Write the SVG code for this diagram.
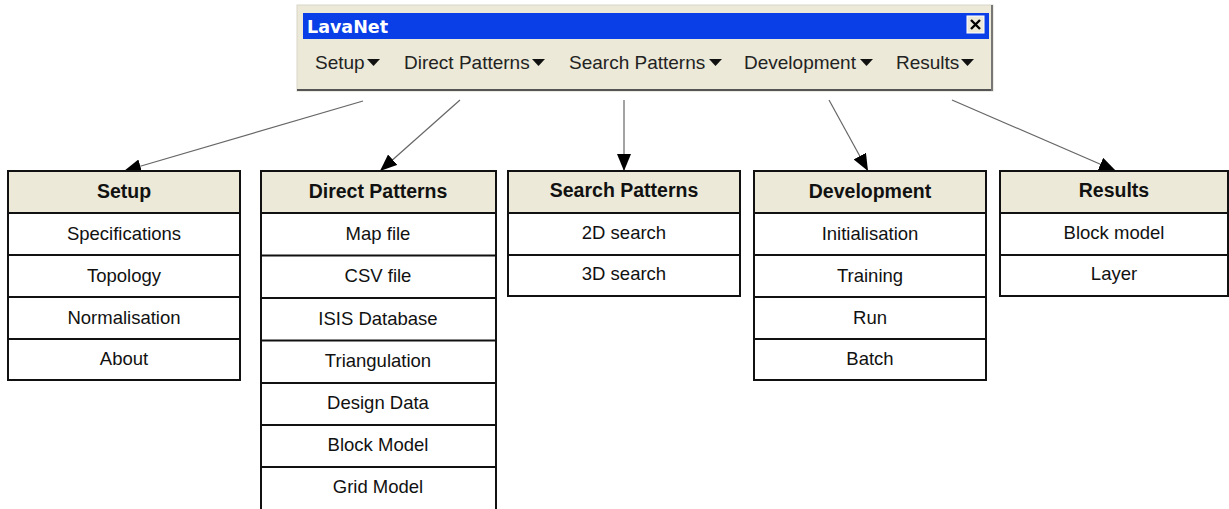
<svg xmlns="http://www.w3.org/2000/svg" width="1229" height="509" viewBox="0 0 1229 509">
<style>
.box{fill:#fff;stroke:#111;stroke-width:2}
.hdr{fill:#ECE9D8;stroke:#111;stroke-width:2}
.sep{stroke:#111;stroke-width:2}
.ht{font-family:"Liberation Sans",Arial,sans-serif;font-weight:bold;font-size:19.5px;fill:#111;text-anchor:middle}
.rt{font-family:"Liberation Sans",Arial,sans-serif;font-size:18.5px;fill:#111;text-anchor:middle}
.mt{font-family:"Liberation Sans",Arial,sans-serif;font-size:19px;fill:#222}
.tri{fill:#111}
.conn{stroke:#666;stroke-width:1.2;fill:none;marker-end:url(#ah)}
</style>
<defs>
<marker id="ah" markerUnits="userSpaceOnUse" markerWidth="18" markerHeight="14" refX="17" refY="7" orient="auto">
<path d="M0,0 L17,7 L0,14 Z" fill="#000"/>
</marker>
</defs>
<rect width="1229" height="509" fill="#fff"/>
<g id="window">
<rect x="297" y="5" width="696" height="86" fill="#ECE9D8" stroke="#d8d5c8" stroke-width="1"/>
<line x1="297" y1="90" x2="993" y2="90" stroke="#555" stroke-width="2"/>
<line x1="992" y1="5" x2="992" y2="91" stroke="#777" stroke-width="2"/>
<rect x="303" y="13" width="686" height="26" fill="#0A3FE8"/>
<text x="307" y="33" font-family="'DejaVu Sans',Verdana,sans-serif" font-weight="bold" font-size="17.5px" fill="#fff">LavaNet</text>
<rect x="967" y="16" width="17" height="17" fill="#ECE9D8" stroke="#fff" stroke-width="1"/>
<path d="M971,20 L980,29 M980,20 L971,29" stroke="#000" stroke-width="2.4"/>
<text class="mt" x="315" y="69">Setup</text>
<path class="tri" d="M367,59 L380,59 L373.5,66 Z"/>
<text class="mt" x="404" y="69">Direct Patterns</text>
<path class="tri" d="M532,59 L545,59 L538.5,66 Z"/>
<text class="mt" x="569" y="69">Search Patterns</text>
<path class="tri" d="M709,59 L722,59 L715.5,66 Z"/>
<text class="mt" x="744" y="69">Development</text>
<path class="tri" d="M860,59 L873,59 L866.5,66 Z"/>
<text class="mt" x="896" y="69">Results</text>
<path class="tri" d="M961,59 L974,59 L967.5,66 Z"/>
</g>
<g id="connectors">
<line class="conn" x1="363" y1="101" x2="124" y2="171"/>
<line class="conn" x1="460" y1="100" x2="380" y2="171"/>
<line class="conn" x1="624" y1="100" x2="624" y2="171"/>
<line class="conn" x1="829" y1="100" x2="868" y2="171"/>
<line class="conn" x1="952" y1="100" x2="1116" y2="171"/>
</g>
<g id="setup">
<rect class="box" x="8" y="171" width="232" height="209"/>
<rect class="hdr" x="8" y="171" width="232" height="42"/>
<line class="sep" x1="8" y1="255" x2="240" y2="255"/>
<line class="sep" x1="8" y1="297" x2="240" y2="297"/>
<line class="sep" x1="8" y1="339" x2="240" y2="339"/>
<text class="ht" x="124" y="198">Setup</text>
<text class="rt" x="124" y="240">Specifications</text>
<text class="rt" x="124" y="282">Topology</text>
<text class="rt" x="124" y="324">Normalisation</text>
<text class="rt" x="124" y="365">About</text>
</g>
<g id="direct-patterns">
<rect class="box" x="261" y="171" width="235" height="345"/>
<rect class="hdr" x="261" y="171" width="235" height="42"/>
<line class="sep" x1="261" y1="255.5" x2="496" y2="255.5"/>
<line class="sep" x1="261" y1="298" x2="496" y2="298"/>
<line class="sep" x1="261" y1="340.5" x2="496" y2="340.5"/>
<line class="sep" x1="261" y1="383" x2="496" y2="383"/>
<line class="sep" x1="261" y1="425" x2="496" y2="425"/>
<line class="sep" x1="261" y1="467" x2="496" y2="467"/>
<text class="ht" x="378" y="198">Direct Patterns</text>
<text class="rt" x="378" y="240">Map file</text>
<text class="rt" x="378" y="282">CSV file</text>
<text class="rt" x="378" y="325">ISIS Database</text>
<text class="rt" x="378" y="367">Triangulation</text>
<text class="rt" x="378" y="409">Design Data</text>
<text class="rt" x="378" y="451">Block Model</text>
<text class="rt" x="378" y="493">Grid Model</text>
</g>
<g id="search-patterns">
<rect class="box" x="508" y="171" width="232" height="125"/>
<rect class="hdr" x="508" y="171" width="232" height="42"/>
<line class="sep" x1="508" y1="255" x2="740" y2="255"/>
<text class="ht" x="624" y="197">Search Patterns</text>
<text class="rt" x="624" y="239">2D search</text>
<text class="rt" x="624" y="280">3D search</text>
</g>
<g id="development">
<rect class="box" x="754" y="171" width="232" height="209"/>
<rect class="hdr" x="754" y="171" width="232" height="42"/>
<line class="sep" x1="754" y1="255" x2="986" y2="255"/>
<line class="sep" x1="754" y1="297" x2="986" y2="297"/>
<line class="sep" x1="754" y1="339" x2="986" y2="339"/>
<text class="ht" x="870" y="198">Development</text>
<text class="rt" x="870" y="240">Initialisation</text>
<text class="rt" x="870" y="282">Training</text>
<text class="rt" x="870" y="324">Run</text>
<text class="rt" x="870" y="365">Batch</text>
</g>
<g id="results">
<rect class="box" x="1000" y="171" width="228" height="125"/>
<rect class="hdr" x="1000" y="171" width="228" height="42"/>
<line class="sep" x1="1000" y1="255" x2="1228" y2="255"/>
<text class="ht" x="1114" y="197">Results</text>
<text class="rt" x="1114" y="239">Block model</text>
<text class="rt" x="1114" y="280">Layer</text>
</g>
</svg>
